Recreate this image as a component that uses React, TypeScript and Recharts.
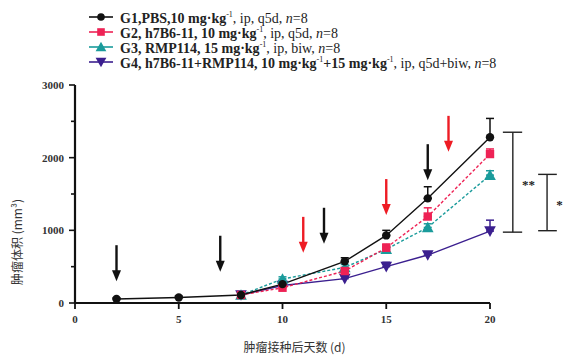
import React from 'react';
import {
  LineChart, Line, XAxis, YAxis, ErrorBar, ReferenceDot, ReferenceLine, Legend,
} from 'recharts';

// Days after inoculation
const days = [2, 5, 8, 10, 13, 15, 17, 20];

// Mean tumour volume (mm³) per group
const g1 = [55, 75, 110, 260, 573, 930, 1440, 2280];
const g2 = [null, null, 110, 210, 440, 760, 1190, 2050];
const g3 = [null, null, 110, 330, 490, 740, 1040, 1760];
const g4 = [null, null, 110, 240, 335, 500, 660, 990];

// Upper error (SEM) per group
const g1Err = [15, 20, 15, 40, 50, 70, 160, 260];
const g2Err = [null, null, 0, 30, 40, 50, 120, 70];
const g3Err = [null, null, 0, 30, 40, 40, 50, 60];
const g4Err = [null, null, 0, 20, 30, 60, 40, 150];

const xTicks = [0, 5, 10, 15, 20];
const yTicks = [0, 500, 1000, 1500, 2000, 2500, 3000];

// Dosing arrows: day and arrow tip volume
const blackArrows = [
  { day: 2, tip: 300 },
  { day: 7, tip: 430 },
  { day: 12, tip: 815 },
  { day: 17, tip: 1690 },
];
const redArrows = [
  { day: 11, tip: 690 },
  { day: 15, tip: 1210 },
  { day: 18, tip: 2080 },
];

// Significance brackets
const brackets = [
  { x: 21.1, capL: 20.62, capR: 21.55, top: 2350, bottom: 975, mark: '**', markX: 21.85, markY: 1640 },
  { x: 22.75, capL: 22.32, capR: 23.22, top: 1770, bottom: 995, mark: '*', markX: 23.35, markY: 1360 },
];

const colors = ['#111111', '#ee2255', '#1a9b9b', '#3b1f8f'];
const shapes = ['circle', 'square', 'triangle', 'triangleDown'];
const legendParts = [
  { bold: 'G1,PBS,10 mg·kg', rest: ', ip, q5d, ' },
  { bold: 'G2, h7B6-11, 10 mg·kg', rest: ', ip, q5d, ' },
  { bold: 'G3, RMP114, 15 mg·kg', rest: ', ip, biw, ' },
  { bold: 'G4, h7B6-11+RMP114, 10 mg·kg', mid: '+15 mg·kg', rest: ', ip, q5d+biw, ' },
];

const data = days.map((d, i) => ({
  day: d,
  g1: g1[i],
  g2: g2[i],
  g3: g3[i],
  g4: g4[i],
  e1: g1Err[i] == null ? null : [0, g1Err[i]],
  e2: g2Err[i] == null ? null : [0, g2Err[i]],
  e3: g3Err[i] == null ? null : [0, g3Err[i]],
  e4: g4Err[i] == null ? null : [0, g4Err[i]],
}));

const serif = '"Liberation Serif", "DejaVu Serif", serif';
const cjk = '"Noto Sans CJK SC", sans-serif';

function Marker({ shape, cx, cy, color, r = 4 }: any) {
  if (cx == null || cy == null) return null;
  if (shape === 'square') {
    return <rect x={cx - r} y={cy - r} width={2 * r} height={2 * r} fill={color} />;
  }
  if (shape === 'triangle') {
    const h = r * 1.15;
    return <polygon points={`${cx},${cy - h - 1} ${cx - h - 1},${cy + h} ${cx + h + 1},${cy + h}`} fill={color} />;
  }
  if (shape === 'triangleDown') {
    const h = r * 1.15;
    return <polygon points={`${cx},${cy + h + 1} ${cx - h - 1},${cy - h} ${cx + h + 1},${cy - h}`} fill={color} />;
  }
  return <circle cx={cx} cy={cy} r={r} fill={color} />;
}

function makeDot(idx: number) {
  return (p: any) => (
    <Marker key={`d${idx}-${p.index}`} shape={shapes[idx]} cx={p.cx} cy={p.cy} color={colors[idx]} r={4.2} />
  );
}

function Arrow({ cx, cy, color }: any) {
  if (cx == null || cy == null) return null;
  return (
    <g>
      <line x1={cx} y1={cy - 36} x2={cx} y2={cy - 8} stroke={color} strokeWidth={2.4} />
      <polygon points={`${cx - 4.5},${cy - 11} ${cx + 4.5},${cy - 11} ${cx},${cy}`} fill={color} />
    </g>
  );
}

function YTick(props: any) {
  const { x, y, payload } = props;
  const v = payload.value;
  const major = v % 1000 === 0;
  const axisX = x + 11;
  return (
    <g>
      <line x1={axisX - (major ? 6 : 4)} y1={y} x2={axisX} y2={y} stroke="#111" strokeWidth={1.6} />
      {major && (
        <text x={x} y={y} dy={4} textAnchor="end" fontFamily={serif} fontSize={11} fontWeight="bold" fill="#333">
          {v}
        </text>
      )}
    </g>
  );
}

function LegendBox() {
  return (
    <div style={{ fontFamily: serif, fontSize: 14, color: '#222', lineHeight: '15px' }}>
      {legendParts.map((p, i) => (
        <div key={i} style={{ whiteSpace: 'pre', height: 15, display: 'flex', alignItems: 'center' }}>
          <svg width={26} height={12} style={{ marginRight: 6, flex: 'none' }}>
            <line x1={1} y1={6} x2={25} y2={6} stroke={colors[i]} strokeWidth={1.6} />
            <Marker shape={shapes[i]} cx={13} cy={6} color={colors[i]} r={3.8} />
          </svg>
          <span style={{ whiteSpace: 'pre' }}>
            <b>{p.bold}</b>
            <sup style={{ fontSize: 8 }}>-1</sup>
            {p.mid && <b>{p.mid}</b>}
            {p.mid && <sup style={{ fontSize: 8 }}>-1</sup>}
            {p.rest}
            <i>n</i>=8
          </span>
        </div>
      ))}
    </div>
  );
}

export default function App() {
  const keys = ['g1', 'g2', 'g3', 'g4'];
  const errs = ['e1', 'e2', 'e3', 'e4'];
  const dashes = [undefined, '3 2', '3 2', undefined];
  const order = [3, 2, 1, 0];
  return (
    <div style={{ position: 'absolute', left: 0, top: 0, width: 568, height: 358, background: '#fff' }}>
      <LineChart width={568} height={358} data={data} margin={{ top: 25, right: 78, bottom: 0, left: 0 }}>
        <XAxis
          dataKey="day"
          type="number"
          domain={[0, 20]}
          ticks={xTicks}
          axisLine={{ stroke: '#111', strokeWidth: 2.2 }}
          tickLine={{ stroke: '#111', strokeWidth: 1.8 }}
          tickSize={6}
          tickMargin={6}
          height={55}
          tick={{ fontFamily: serif, fontSize: 11, fontWeight: 'bold', fill: '#333' }}
          label={{
            value: '肿瘤接种后天数 (d)',
            position: 'insideBottom',
            offset: 6,
            dx: 12,
            style: { fontFamily: cjk, fontSize: 12, fill: '#333' },
          }}
        />
        <YAxis
          type="number"
          domain={[0, 3000]}
          ticks={yTicks}
          width={75}
          axisLine={{ stroke: '#111', strokeWidth: 2.2 }}
          tickLine={false}
          tickSize={6}
          tickMargin={5}
          tick={<YTick />}
          interval={0}
          label={{
            value: '肿瘤体积 (mm³)',
            angle: -90,
            position: 'insideLeft',
            offset: 18,
            dy: 48,
            style: { fontFamily: cjk, fontSize: 12, fill: '#333', textAnchor: 'middle' },
          }}
        />
        <Legend
          verticalAlign="top"
          align="left"
          content={() => <LegendBox />}
          wrapperStyle={{ top: 9, left: 88, width: 470 }}
        />
        {order.map((i) => (
          <Line
            key={keys[i]}
            dataKey={keys[i]}
            stroke={colors[i]}
            strokeWidth={1.4}
            strokeDasharray={dashes[i]}
            dot={makeDot(i)}
            activeDot={false}
            connectNulls={false}
            isAnimationActive={false}
            legendType="none"
          >
            <ErrorBar dataKey={errs[i]} width={4} stroke={colors[i]} strokeWidth={1.5} direction="y" />
          </Line>
        ))}
        {blackArrows.map((a) => (
          <ReferenceDot
            key={`ba${a.day}`}
            x={a.day}
            y={a.tip}
            ifOverflow="visible"
            shape={(p: any) => <Arrow cx={p.cx} cy={p.cy} color="#111" />}
          />
        ))}
        {redArrows.map((a) => (
          <ReferenceDot
            key={`ra${a.day}`}
            x={a.day}
            y={a.tip}
            ifOverflow="visible"
            shape={(p: any) => <Arrow cx={p.cx} cy={p.cy} color="#ee1c24" />}
          />
        ))}
        {brackets.map((b, i) => (
          <ReferenceLine
            key={`bv${i}`}
            segment={[{ x: b.x, y: b.top }, { x: b.x, y: b.bottom }]}
            ifOverflow="visible"
            stroke="#222"
            strokeWidth={1.4}
          />
        ))}
        {brackets.map((b, i) => (
          <ReferenceLine
            key={`bt${i}`}
            segment={[{ x: b.capL, y: b.top }, { x: b.capR, y: b.top }]}
            ifOverflow="visible"
            stroke="#222"
            strokeWidth={1.4}
          />
        ))}
        {brackets.map((b, i) => (
          <ReferenceLine
            key={`bb${i}`}
            segment={[{ x: b.capL, y: b.bottom }, { x: b.capR, y: b.bottom }]}
            ifOverflow="visible"
            stroke="#222"
            strokeWidth={1.4}
          />
        ))}
        {brackets.map((b, i) => (
          <ReferenceDot
            key={`bm${i}`}
            x={b.markX}
            y={b.markY}
            ifOverflow="visible"
            shape={(p: any) => (
              <text x={p.cx} y={p.cy} dy={5} textAnchor="middle" fontFamily={serif} fontSize={13} fontWeight="bold" fill="#222">
                {b.mark}
              </text>
            )}
          />
        ))}
      </LineChart>
    </div>
  );
}
